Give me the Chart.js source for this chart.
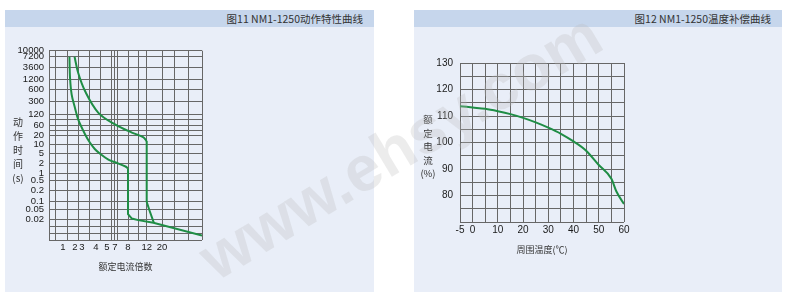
<!DOCTYPE html>
<html>
<head>
<meta charset="utf-8">
<script src="https://cdn.jsdelivr.net/npm/chart.js@4/dist/chart.umd.min.js"></script>
<style>
  html, body { margin:0; padding:0; background:#fff; }
  body { width:790px; height:298px; position:relative; overflow:hidden; color:#333;
         font-family:"Liberation Sans","Noto Sans CJK SC",sans-serif; }
  .panel { position:absolute; top:10px; height:282px; background:#e9eef8; }
  .panel-head { height:17px; line-height:17px; background:#c6d6ec; text-align:right; padding-right:11px;
                font-size:10.5px; color:#333; font-family:"Noto Sans CJK SC",sans-serif; }
  .box { position:absolute; }
  .ytitle { position:absolute; width:20px; text-align:center; color:#333;
            font-family:"Noto Sans CJK SC",sans-serif; }
  .wm { position:absolute; left:400px; top:146px; transform:translate(-50%,-50%) rotate(-31deg);
        font:bold 64px "Liberation Sans",sans-serif; color:rgba(185,185,185,0.28); white-space:nowrap;
        pointer-events:none; z-index:5; }
</style>
</head>
<body>
<div class="panel" style="left:5px; width:369px;"><div class="panel-head">图11 NM1-1250动作特性曲线</div></div>
<div class="panel" style="left:414px; width:368px;"><div class="panel-head">图12 NM1-1250温度补偿曲线</div></div>

<div class="box" style="left:0; top:40px;"><canvas id="chartTrip" width="215" height="240"></canvas></div>
<div class="ytitle" style="left:8px; top:115px; font-size:10px; line-height:14px;">动<br>作<br>时<br>间<br>(s)</div>

<div class="box" style="left:400px; top:50px;"><canvas id="chartTemp" width="240" height="210"></canvas></div>
<div class="ytitle" style="left:418px; top:113px; font-size:9.5px; line-height:13.5px;">额<br>定<br>电<br>流<br>(%)</div>

<div class="wm">www.ehsy.com</div>

<script>
// ---- 图11 动作特性曲线 (multiples of rated current vs trip time, s) ----
const xMultiples = [1, 2, 3, 4, 5, 7, 8, 12, 20];
const yTimes = [10000, 7200, 3600, 1200, 600, 300, 120, 60, 20, 10, 5, 2, 1, 0.5, 0.2, 0.1, 0.05, 0.02];

const lowCurveX = [1.45, 1.5, 1.65, 2, 2.4, 3.2, 3.5, 3.9, 4.3, 5.3, 7.1, 7.8, 8, 8, 8.7, 10, 15, 50];
const lowCurveY = [7200, 1400, 440, 190, 87, 22, 12, 7, 5, 2.8, 2.1, 1.6, 1.4, 0.033, 0.022, 0.019, 0.015, 0.0045];
const highCurveX = [1.95, 2.4, 3.2, 4.2, 7, 8.7, 11.1, 12, 12, 13.1, 15.2];
const highCurveY = [7200, 2200, 530, 135, 63, 27, 17.5, 13, 0.095, 0.048, 0.015];
const LOW_KNEE = 12, HIGH_KNEE = 7;   // where the smooth part ends and the straight drop starts

// ---- 图12 温度补偿曲线 ----
const tempC = [-5, 0, 5, 10, 15, 20, 25, 30, 35, 40, 45, 50, 55, 57, 60];
const ratedPct = [113.7, 113.2, 112.7, 111.8, 110.7, 109.3, 107.6, 105.6, 103.3, 100.4, 96.9, 91.5, 86.3, 81.5, 76.8];

// the printed grid of fig.11 is not a true log grid: where the labels / lines sit (plot px units)
const X_SPAN = 153, Y_SPAN = 190;
const X_LABEL_POS = [14, 26, 33, 47, 58, 66, 79, 97.7, 113];
const X_GRID_POS = [0, 6, 18, 29, 40, 51, 62, 65, 68, 79, 89, 97.7, 113, 125, 139, 153];
const Y_LABEL_POS = [0, 6, 17, 28.5, 38.5, 51, 64, 74.7, 85, 94, 103, 113, 123, 130.5, 140.5, 151, 159.5, 169.5];
const Y_GRID_POS = [0, 6, 17, 28.5, 38.5, 51, 64, 69, 74.7, 80, 85, 94, 103, 113, 123, 130.5, 140.5, 151, 159.5, 169.5, 176, 183, 190];

const GRID = '#676767';
const GREEN = '#1f8d45';
const TICK_FONT = { family: '"Liberation Sans", Arial, sans-serif', size: 9.5 };
const TICK_FONT_R = { family: '"Liberation Sans", Arial, sans-serif', size: 10 };
const TITLE_FONT = { family: '"Noto Sans CJK SC", sans-serif', size: 9 };

function logLerp(v, vals, pos){
  for (let i = 0; i < vals.length - 1; i++){
    const a = vals[i], b = vals[i+1];
    if (v >= Math.min(a,b) && v <= Math.max(a,b)){
      const t = (Math.log(v) - Math.log(a)) / (Math.log(b) - Math.log(a));
      return pos[i] + t * (pos[i+1] - pos[i]);
    }
  }
  return Math.abs(v - vals[0]) < Math.abs(v - vals[vals.length-1]) ? pos[0] : pos[pos.length-1];
}
const toX = v => logLerp(v, [0.7, ...xMultiples, 50], [0, ...X_LABEL_POS, X_SPAN]);
const toY = v => logLerp(v, [...yTimes, 0.003], [...Y_LABEL_POS, Y_SPAN]);

function seg(xs, ys, from, to, smooth){
  const pts = [];
  for (let i = from; i < to; i++) pts.push({ x: toX(xs[i]), y: toY(ys[i]) });
  return { data: pts, borderColor: GREEN, borderWidth: 2, pointRadius: 0, fill: false,
           tension: smooth ? 0.35 : 0 };
}

function mkTicks(gridPos, labelPos, labels){
  const m = new Map();
  gridPos.forEach(p => m.set(p, { value: p, grid: true, text: '' }));
  labelPos.forEach((p, i) => {
    const t = m.get(p) || { value: p, grid: false, text: '' };
    t.text = String(labels[i]);
    m.set(p, t);
  });
  return [...m.values()].sort((a, b) => a.value - b.value);
}

const gridColor = c => (c.tick && c.tick.grid) ? GRID : 'rgba(0,0,0,0)';

new Chart(document.getElementById('chartTrip'), {
  type: 'line',
  data: { datasets: [
    seg(lowCurveX, lowCurveY, 0, LOW_KNEE + 1, true),
    seg(lowCurveX, lowCurveY, LOW_KNEE, lowCurveX.length, false),
    seg(highCurveX, highCurveY, 0, HIGH_KNEE + 1, true),
    seg(highCurveX, highCurveY, HIGH_KNEE, highCurveX.length, false)
  ]},
  options: {
    responsive: false, animation: false,
    layout: { padding: { top: 10, right: 13, bottom: 8, left: 0 } },
    plugins: { legend: { display: false }, tooltip: { enabled: false } },
    scales: {
      x: {
        type: 'linear', min: 0, max: X_SPAN,
        afterBuildTicks: s => { s.ticks = mkTicks(X_GRID_POS, X_LABEL_POS, xMultiples); },
        afterFit: s => { s.height = 32; },
        grid: { color: gridColor, lineWidth: 1, drawTicks: false },
        border: { display: false },
        ticks: { autoSkip: false, maxRotation: 0, padding: 2, color: '#1a1a1a', font: TICK_FONT,
                 callback: (v, i, t) => t[i].text },
        title: { display: true, text: '额定电流倍数', color: '#333', font: TITLE_FONT, padding: 0 }
      },
      y: {
        type: 'linear', min: 0, max: Y_SPAN, reverse: true,
        afterBuildTicks: s => { s.ticks = mkTicks(Y_GRID_POS, Y_LABEL_POS, yTimes); },
        afterFit: s => { s.width = 49; },
        grid: { color: gridColor, lineWidth: 1, drawTicks: false },
        border: { display: false },
        ticks: { autoSkip: false, padding: 5, color: '#1a1a1a', font: TICK_FONT,
                 callback: (v, i, t) => t[i].text }
      }
    }
  }
});

new Chart(document.getElementById('chartTemp'), {
  type: 'line',
  data: { datasets: [{
    data: tempC.map((t, i) => ({ x: t, y: ratedPct[i] })),
    borderColor: GREEN, borderWidth: 2, pointRadius: 0, fill: false, tension: 0.4,
    cubicInterpolationMode: 'monotone'
  }]},
  options: {
    responsive: false, animation: false,
    layout: { padding: { top: 13, right: 16, bottom: 5, left: 0 } },
    plugins: { legend: { display: false }, tooltip: { enabled: false } },
    scales: {
      x: {
        type: 'linear', min: -5, max: 60,
        afterFit: s => { s.height = 33; },
        grid: { color: GRID, lineWidth: 1, drawTicks: false },
        border: { display: false },
        ticks: { stepSize: 5, autoSkip: false, maxRotation: 0, padding: 2, color: '#1a1a1a', font: TICK_FONT_R,
                 callback: v => (v === -5 || v % 10 === 0) ? String(v) : '' },
        title: { display: true, text: '周围温度(℃)', color: '#333', font: TITLE_FONT, padding: 0 }
      },
      y: {
        type: 'linear', min: 70, max: 130,
        afterFit: s => { s.width = 60; },
        grid: { color: GRID, lineWidth: 1, drawTicks: false },
        border: { display: false },
        ticks: { stepSize: 5, autoSkip: false, padding: 7, color: '#1a1a1a', font: TICK_FONT_R,
                 callback: v => (v % 10 === 0 && v > 70) ? String(v) : '' }
      }
    }
  }
});
</script>
</body>
</html>
